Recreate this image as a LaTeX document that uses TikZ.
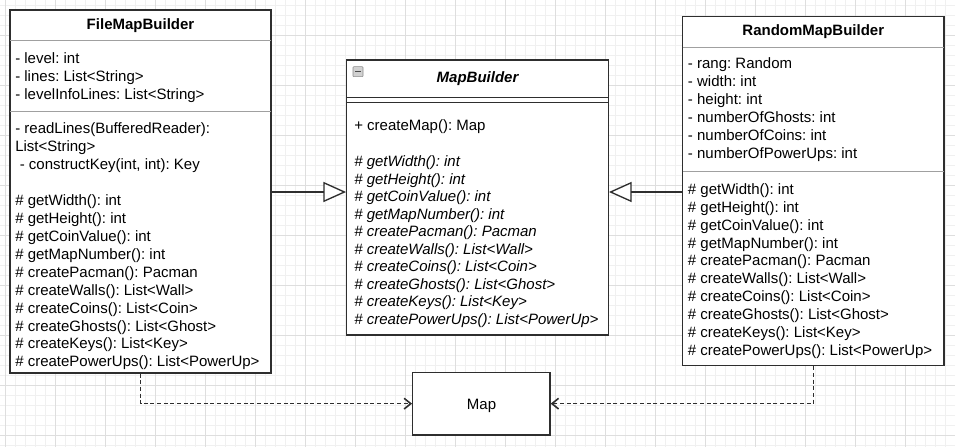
\documentclass[tikz,border=0pt]{standalone}
\usepackage{fontspec}
\setmainfont{Liberation Sans}
\usetikzlibrary{arrows.meta,fit}
\frenchspacing
\definecolor{gridminor}{HTML}{F0F0F0}
\definecolor{gridmajor}{HTML}{DEDEDE}
\definecolor{border}{HTML}{2E2E2E}
\definecolor{sepline}{HTML}{A0A0A0}
\begin{document}
\begin{tikzpicture}[x=0.75pt,y=-0.75pt,
  txt/.style={anchor=base west,inner sep=0pt,font=\fontsize{11.25}{13.5}\selectfont\frenchspacing},
  itxt/.style={txt,font=\fontsize{11.25}{13.5}\selectfont\frenchspacing\itshape},
  ttl/.style={anchor=base,inner sep=0pt,font=\fontsize{11.25}{13.5}\selectfont\bfseries},
  classbox/.style={draw=border,line width=0.95pt,fill=white,inner sep=0pt},
  sep/.style={draw=sepline,line width=0.8pt},
  dsep/.style={draw=border,line width=0.9pt},
  gen/.style={draw=border,line width=1pt,-{Triangle[open,length=17pt,width=15pt,fill=white]}},
  dep/.style={draw=border,line width=1.2pt,dash pattern=on 3pt off 2pt,-{Straight Barb[length=5pt,width=8pt]}}]
\useasboundingbox (0,0) rectangle (955,447);
% grid
\fill[white] (0,0) rectangle (955,447);
\foreach \x in {5,15,...,955} \draw[gridminor,line width=0.75pt] (\x,0) -- (\x,447);
\foreach \y in {5,15,...,445} \draw[gridminor,line width=0.75pt] (0,\y) -- (955,\y);
\foreach \x in {5,55,...,955} \draw[gridmajor,line width=0.75pt] (\x,0) -- (\x,447);
\foreach \y in {35,85,...,435} \draw[gridmajor,line width=0.75pt] (0,\y) -- (955,\y);

% ---------- FileMapBuilder
\node[classbox,fit={(10,10) (271,373)}] (fmb) {};
\draw[sep] (10,40.7) -- (271,40.7);
\draw[sep] (10,111.7) -- (271,111.7);
\node[ttl] (fmbt) at (140.5,29.5) {FileMapBuilder};
\foreach \t [count=\i] in {- level: int,- lines: List<String>,- levelInfoLines: List<String>}
  \node[txt] (fa\i) at (15,{58+18*(\i-1)+5}) {\t};
\node[txt] (fm1) at (15,133) {- readLines(BufferedReader):};
\node[txt] (fm2) at (15,151) {List<String>};
\node[txt] (fm3) at (19.5,169) {- constructKey(int, int): Key};
\foreach \t [count=\i] in {\# getWidth(): int,\# getHeight(): int,\# getCoinValue(): int,\# getMapNumber(): int,\# createPacman(): Pacman,\# createWalls(): List<Wall>,\# createCoins(): List<Coin>,\# createGhosts(): List<Ghost>,\# createKeys(): List<Key>,\# createPowerUps(): List<PowerUp>}
  \node[txt] (fg\i) at (15,{200.7+17.9*(\i-1)+5}) {\t};

% ---------- MapBuilder
\node[classbox,fit={(346.7,60) (608.3,335)}] (mb) {};
\draw[dsep] (346.7,97.3) -- (608.3,97.3);
\draw[dsep] (346.7,102.3) -- (608.3,102.3);
\node[ttl,font=\fontsize{11.25}{13.5}\selectfont\bfseries\itshape] (mbt) at (477.5,82) {MapBuilder};
\node[draw=black!45,fill=black!18,minimum width=7.5pt,minimum height=7.5pt,inner sep=0pt,rounded corners=0.6pt] (icon) at (358,71.7) {};
\draw[black!70,line width=1pt] ([xshift=-2.2pt]icon.center) -- ([xshift=2.2pt]icon.center);
\node[txt] (mc) at (354,130) {+ createMap(): Map};
\foreach \t [count=\i] in {\# getWidth(): int,\# getHeight(): int,\# getCoinValue(): int,\# getMapNumber(): int,\# createPacman(): Pacman,\# createWalls(): List<Wall>,\# createCoins(): List<Coin>,\# createGhosts(): List<Ghost>,\# createKeys(): List<Key>,\# createPowerUps(): List<PowerUp>}
  \node[itxt] (mg\i) at (354,{161.7+17.5*(\i-1)+5}) {\t};

% ---------- RandomMapBuilder
\node[classbox,fit={(682.7,16.7) (944,365.7)}] (rmb) {};
\draw[sep] (682.7,47.3) -- (944,47.3);
\draw[sep] (682.7,171.7) -- (944,171.7);
\node[ttl] (rmbt) at (813.3,35) {RandomMapBuilder};
\foreach \t [count=\i] in {- rang: Random,- width: int,- height: int,- numberOfGhosts: int,- numberOfCoins: int,- numberOfPowerUps: int}
  \node[txt] (ra\i) at (687.7,{63.3+18.1*(\i-1)+5}) {\t};
\foreach \t [count=\i] in {\# getWidth(): int,\# getHeight(): int,\# getCoinValue(): int,\# getMapNumber(): int,\# createPacman(): Pacman,\# createWalls(): List<Wall>,\# createCoins(): List<Coin>,\# createGhosts(): List<Ghost>,\# createKeys(): List<Key>,\# createPowerUps(): List<PowerUp>}
  \node[txt] (rg\i) at (687.7,{189.3+17.9*(\i-1)+5}) {\t};

% ---------- Map
\node[classbox,fit={(412.7,372.3) (550,435)}] (map) {};
\node[anchor=base,inner sep=0pt,font=\fontsize{11.25}{13.5}\selectfont] (mapt) at (481.5,409) {Map};

% ---------- connectors
\coordinate (genL) at (0,192);
\draw[gen] (fmb.east |- genL) -- (mb.west |- genL);
\draw[gen] (rmb.west |- genL) -- (mb.east |- genL);
\draw[dep] (fmb.south) |- (map.west);
\draw[dep] (rmb.south) |- (map.east);
\end{tikzpicture}
\end{document}
